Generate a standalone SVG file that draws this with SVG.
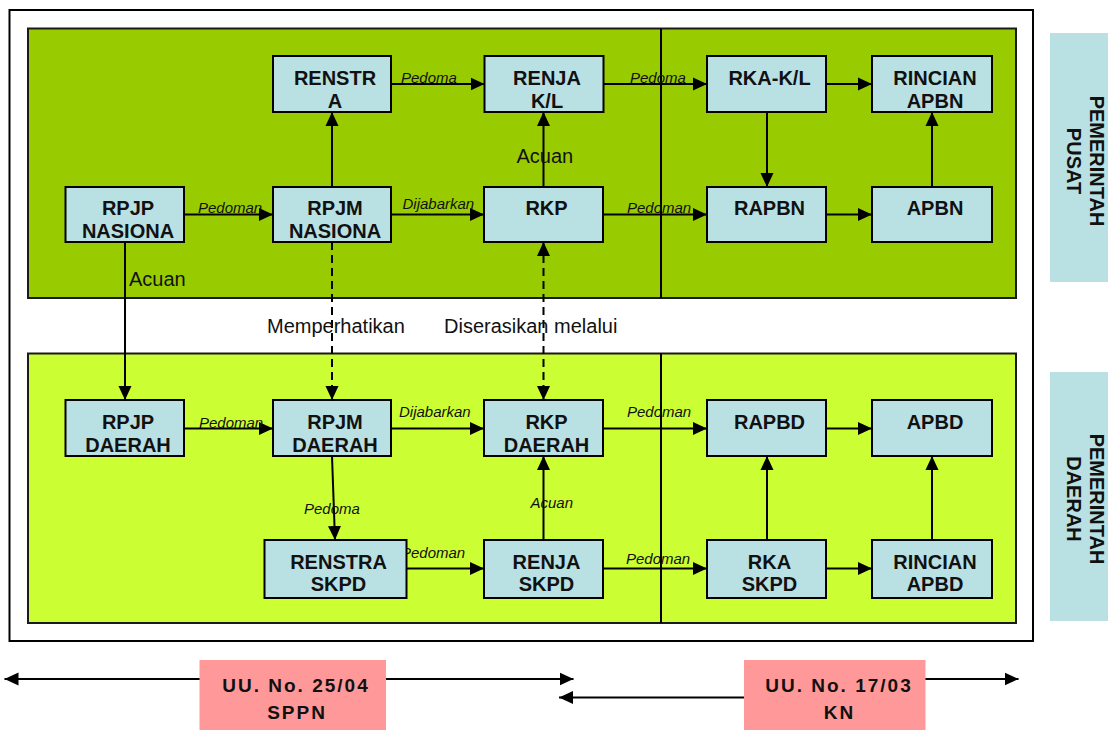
<svg xmlns="http://www.w3.org/2000/svg" width="1108" height="730" viewBox="0 0 1108 730">
<defs>
<marker id="ah" markerUnits="userSpaceOnUse" markerWidth="15" markerHeight="14" refX="14" refY="7" orient="auto-start-reverse">
<path d="M0,0.5 L14,7 L0,13.5 z" fill="#000"/>
</marker>
</defs>
<style>
.panel{stroke:#1a1a1a;stroke-width:2}
.node rect{fill:#B9E0E3;stroke:#000;stroke-width:2}
.node text{font-family:"Liberation Sans",Arial,sans-serif;font-weight:bold;font-size:20px;fill:#111;text-anchor:middle}
.side{fill:#B9E0E3}
.side text{font-family:"Liberation Sans",Arial,sans-serif;font-weight:bold;font-size:20px;fill:#111;text-anchor:middle}
.law rect{fill:#FF9999}
.law text{font-family:"Liberation Sans",Arial,sans-serif;font-weight:bold;font-size:19px;fill:#111;text-anchor:middle;letter-spacing:2px}
.c{stroke:#000;stroke-width:2;fill:none;marker-end:url(#ah)}
.d{stroke:#000;stroke-width:2;fill:none;stroke-dasharray:8 5;marker-end:url(#ah)}
.il{font-family:"Liberation Sans",Arial,sans-serif;font-style:italic;font-size:15px;fill:#111}
.nl{font-family:"Liberation Sans",Arial,sans-serif;font-size:20px;fill:#111}
</style>
<rect x="0" y="0" width="1108" height="730" fill="#fff"/>
<rect x="9.5" y="10" width="1023.5" height="631" fill="#fff" stroke="#000" stroke-width="2"/>
<rect class="panel" x="28" y="28.5" width="988" height="269.5" fill="#99CC00"/>
<rect class="panel" x="28" y="353.5" width="988" height="269.5" fill="#CCFF33"/>
<line x1="661" y1="28.5" x2="661" y2="298" stroke="#000" stroke-width="2"/>
<line x1="661" y1="353.5" x2="661" y2="623" stroke="#000" stroke-width="2"/>

<g id="side-pusat" class="side">
<rect x="1050" y="33" width="58" height="249"/>
<text transform="translate(1090,161) rotate(90)"><tspan x="0" y="0">PEMERINTAH</tspan><tspan x="0" y="23">PUSAT</tspan></text>
</g>
<g id="side-daerah" class="side">
<rect x="1050" y="372" width="58" height="249"/>
<text transform="translate(1090,499) rotate(90)"><tspan x="0" y="0">PEMERINTAH</tspan><tspan x="0" y="23">DAERAH</tspan></text>
</g>

<g id="connectors">
<line class="c" x1="184" y1="214.5" x2="273" y2="214.5"/>
<line class="c" x1="332" y1="187" x2="332" y2="112"/>
<line class="c" x1="391" y1="214.5" x2="484" y2="214.5"/>
<line class="c" x1="391" y1="84" x2="484.5" y2="84"/>
<line class="c" x1="543.5" y1="187" x2="543.5" y2="112"/>
<line class="c" x1="603.5" y1="84" x2="707" y2="84"/>
<line class="c" x1="826" y1="84" x2="872" y2="84"/>
<line class="c" x1="767" y1="112" x2="767" y2="187"/>
<line class="c" x1="603" y1="214.5" x2="707" y2="214.5"/>
<line class="c" x1="826" y1="214.5" x2="872" y2="214.5"/>
<line class="c" x1="932" y1="187" x2="932" y2="112"/>
<line class="c" x1="125" y1="242" x2="125" y2="400"/>
<line class="d" x1="332" y1="242" x2="332" y2="400"/>
<line class="d" x1="543.5" y1="242" x2="543.5" y2="400" style="marker-start:url(#ah)"/>
<line class="c" x1="184" y1="428.5" x2="273" y2="428.5"/>
<line class="c" x1="391" y1="428.5" x2="484" y2="428.5"/>
<line class="c" x1="332" y1="456" x2="335" y2="540"/>
<line class="c" x1="406.5" y1="568.5" x2="484" y2="568.5"/>
<line class="c" x1="543.5" y1="540" x2="543.5" y2="456"/>
<line class="c" x1="603" y1="428.5" x2="707" y2="428.5"/>
<line class="c" x1="826" y1="428.5" x2="872" y2="428.5"/>
<line class="c" x1="603" y1="568.5" x2="707" y2="568.5"/>
<line class="c" x1="767" y1="540" x2="767" y2="456"/>
<line class="c" x1="826" y1="568.5" x2="872" y2="568.5"/>
<line class="c" x1="932" y1="540" x2="932" y2="456"/>
<line class="c" x1="200" y1="679" x2="573.5" y2="679"/>
<line class="c" x1="200" y1="679" x2="4.5" y2="679"/>
<line class="c" x1="744" y1="697.5" x2="559" y2="697.5"/>
<line class="c" x1="925" y1="679" x2="1018.5" y2="679"/>
</g>

<g id="connector-labels">
<text class="il" x="198" y="212.5">Pedoman</text>
<text class="il" x="401" y="83">Pedoma</text>
<text class="il" x="402.5" y="209">Dijabarkan</text>
<text class="nl" x="516.5" y="163">Acuan</text>
<text class="il" x="630" y="83">Pedoma</text>
<text class="il" x="627" y="213">Pedoman</text>
<text class="nl" x="129" y="285.5">Acuan</text>
<text class="nl" x="267" y="333">Memperhatikan</text>
<text class="nl" x="444" y="333">Diserasikan melalui</text>
<text class="il" x="199" y="428">Pedoman</text>
<text class="il" x="399" y="417">Dijabarkan</text>
<text class="il" x="304" y="514">Pedoma</text>
<text class="il" x="401" y="558">Pedoman</text>
<text class="il" x="530.5" y="508">Acuan</text>
<text class="il" x="627" y="417">Pedoman</text>
<text class="il" x="626" y="564">Pedoman</text>
</g>

<g id="n-renstra" class="node"><rect x="273" y="56" width="118" height="56"/><text x="335" y="85">RENSTR</text><text x="335" y="107.5">A</text></g>
<g id="n-renja-kl" class="node"><rect x="484.5" y="56" width="119" height="56"/><text x="547" y="85">RENJA</text><text x="547" y="107.5">K/L</text></g>
<g id="n-rka-kl" class="node"><rect x="707" y="56" width="119" height="56"/><text x="769.5" y="85">RKA-K/L</text></g>
<g id="n-rincian-apbn" class="node"><rect x="872" y="56" width="120" height="56"/><text x="935" y="85">RINCIAN</text><text x="935" y="107.5">APBN</text></g>
<g id="n-rpjp-nasional" class="node"><rect x="65.5" y="187" width="118.5" height="55"/><text x="128" y="215">RPJP</text><text x="128" y="238">NASIONA</text></g>
<g id="n-rpjm-nasional" class="node"><rect x="273" y="187" width="118" height="55"/><text x="335" y="215">RPJM</text><text x="335" y="238">NASIONA</text></g>
<g id="n-rkp" class="node"><rect x="484" y="187" width="119" height="55"/><text x="546.5" y="215">RKP</text></g>
<g id="n-rapbn" class="node"><rect x="707" y="187" width="119" height="55"/><text x="769.5" y="215">RAPBN</text></g>
<g id="n-apbn" class="node"><rect x="872" y="187" width="120" height="55"/><text x="935" y="215">APBN</text></g>
<g id="n-rpjp-daerah" class="node"><rect x="65.5" y="400" width="118.5" height="56"/><text x="128" y="429">RPJP</text><text x="128" y="452">DAERAH</text></g>
<g id="n-rpjm-daerah" class="node"><rect x="273" y="400" width="118" height="56"/><text x="335" y="429">RPJM</text><text x="335" y="452">DAERAH</text></g>
<g id="n-rkp-daerah" class="node"><rect x="484" y="400" width="119" height="56"/><text x="546.5" y="429">RKP</text><text x="546.5" y="452">DAERAH</text></g>
<g id="n-rapbd" class="node"><rect x="707" y="400" width="119" height="56"/><text x="769.5" y="429">RAPBD</text></g>
<g id="n-apbd" class="node"><rect x="872" y="400" width="120" height="56"/><text x="935" y="429">APBD</text></g>
<g id="n-renstra-skpd" class="node"><rect x="264.5" y="540" width="142" height="58"/><text x="338.5" y="568.5">RENSTRA</text><text x="338.5" y="591">SKPD</text></g>
<g id="n-renja-skpd" class="node"><rect x="484" y="540" width="119" height="58"/><text x="546.5" y="568.5">RENJA</text><text x="546.5" y="591">SKPD</text></g>
<g id="n-rka-skpd" class="node"><rect x="707" y="540" width="119" height="58"/><text x="769.5" y="568.5">RKA</text><text x="769.5" y="591">SKPD</text></g>
<g id="n-rincian-apbd" class="node"><rect x="872" y="540" width="120" height="58"/><text x="935" y="568.5">RINCIAN</text><text x="935" y="591">APBD</text></g>

<g id="law-sppn" class="law"><rect x="199.5" y="660" width="186.5" height="70"/><text x="296" y="691.5">UU. No. 25/04</text><text x="297" y="719">SPPN</text></g>
<g id="law-kn" class="law"><rect x="744" y="660" width="181.5" height="70"/><text x="839" y="691.5">UU. No. 17/03</text><text x="839.5" y="719">KN</text></g>
</svg>
